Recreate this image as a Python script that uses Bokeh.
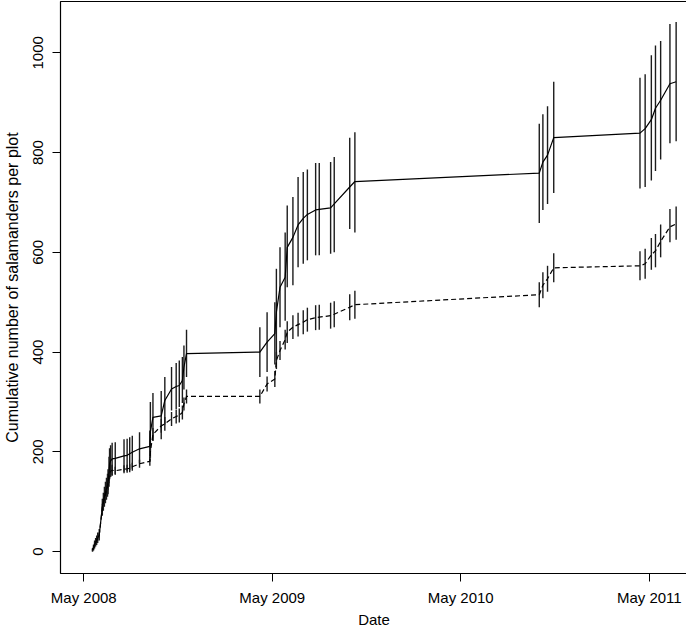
import pandas as pd
from bokeh.plotting import figure
from bokeh.models import FixedTicker, DatetimeTickFormatter, Range1d, ColumnDataSource
from bokeh.embed import file_html
from bokeh.resources import INLINE

# ---------------- data ----------------
dates = [
    # May-Jun 2008
    "2008-05-18", "2008-05-20", "2008-05-22", "2008-05-24", "2008-05-26", "2008-05-28",
    "2008-05-31", "2008-06-06", "2008-06-08", "2008-06-10", "2008-06-12", "2008-06-14",
    "2008-06-16", "2008-06-17", "2008-06-19", "2008-06-20", "2008-06-22", "2008-06-25",
    # Jul-Sep 2008
    "2008-07-01", "2008-07-18", "2008-07-24", "2008-07-29", "2008-08-03", "2008-08-17",
    "2008-09-06",
    # Sep-Nov 2008
    "2008-09-07", "2008-09-12", "2008-09-28", "2008-10-05", "2008-10-18", "2008-10-27",
    "2008-11-02", "2008-11-08", "2008-11-11", "2008-11-16",
    # Apr-Oct 2009
    "2009-04-07", "2009-04-21", "2009-05-06", "2009-05-09", "2009-05-16", "2009-05-26",
    "2009-05-30", "2009-06-10", "2009-06-20", "2009-06-30", "2009-07-08", "2009-07-24",
    "2009-07-31", "2009-08-22", "2009-08-29", "2009-09-28", "2009-10-08",
    # Sep-Oct 2010
    "2010-09-30", "2010-10-07", "2010-10-16", "2010-10-28",
    # Apr-Jun 2011
    "2011-04-13", "2011-04-23", "2011-05-05", "2011-05-13", "2011-05-23", "2011-06-10",
    "2011-06-22",
]

solid_mean = [
    3, 8, 14, 18, 22, 27, 33, 89, 100, 110, 118, 126, 133, 140, 160, 176, 182, 186,
    187, 192, 193, 196, 199, 206, 211,
    240, 269, 272, 303, 326, 331, 333, 343, 370, 397,
    400, 420, 437, 480, 530, 550, 610, 630, 655, 668, 676, 685, 686, 689, 697, 731, 742,
    759, 781, 795, 830,
    839, 848, 866, 889, 905, 938, 942,
]
solid_lo = [
    0, 2, 6, 10, 13, 17, 22, 72, 82, 90, 97, 104, 110, 115, 130, 145, 150, 153,
    155, 160, 161, 163, 166, 177, 180,
    200, 222, 225, 255, 283, 286, 290, 298, 325, 350,
    350, 360, 375, 383, 450, 463, 530, 534, 570, 577, 584, 594, 594, 597, 600, 647, 640,
    659, 685, 697, 719,
    728, 731, 744, 763, 786, 819, 823,
]
solid_hi = [
    6, 14, 22, 27, 32, 38, 45, 106, 118, 130, 140, 148, 156, 165, 190, 207, 213, 218,
    219, 225, 226, 229, 232, 239, 243,
    300, 318, 322, 350, 370, 378, 383, 390, 413, 445,
    450, 480, 500, 567, 610, 640, 694, 711, 751, 761, 766, 779, 779, 781, 791, 830, 841,
    858, 877, 893, 942,
    950, 957, 995, 1015, 1024, 1058, 1062,
]

dashed_mean = [
    3, 8, 14, 18, 22, 27, 33, 88, 98, 107, 114, 121, 127, 133, 148, 158, 161, 163,
    162, 165, 166, 167, 170, 176, 181,
    200, 235, 252, 256, 266, 271, 273, 279, 296, 311,
    311, 336, 346, 383, 403, 425, 440, 450, 455, 460, 465, 469, 470, 473, 476, 490, 495,
    515, 534, 547, 569,
    573, 577, 595, 603, 622, 651, 657,
]
dashed_lo = [
    0, 4, 10, 14, 18, 22, 28, 80, 90, 98, 105, 112, 118, 123, 137, 147, 150, 152,
    154, 157, 158, 159, 162, 168, 172,
    188, 222, 238, 242, 252, 257, 259, 265, 283, 297,
    297, 321, 330, 366, 384, 405, 418, 426, 431, 436, 441, 444, 445, 447, 450, 464, 467,
    490, 508, 521, 540,
    544, 547, 565, 570, 590, 620, 625,
]
dashed_hi = [
    6, 12, 18, 22, 26, 32, 38, 96, 106, 116, 123, 130, 136, 143, 159, 169, 172, 174,
    170, 173, 174, 175, 178, 184, 190,
    212, 248, 266, 270, 280, 285, 287, 293, 309, 325,
    325, 351, 362, 400, 422, 445, 462, 474, 479, 484, 489, 494, 495, 499, 502, 516, 523,
    540, 560, 573, 598,
    602, 607, 629, 637, 656, 687, 692,
]

x_tick_dates = ["2008-05-01", "2009-05-01", "2010-05-01", "2011-05-01"]
x_tick_labels = ["May 2008", "May 2009", "May 2010", "May 2011"]
y_ticks = [0, 200, 400, 600, 800, 1000]

x_title = "Date"
y_title = "Cumulative number of salamanders per plot"

# ---------------- figure ----------------
src = ColumnDataSource(dict(
    x=pd.to_datetime(dates),
    s=solid_mean, slo=solid_lo, shi=solid_hi,
    d=dashed_mean, dlo=dashed_lo, dhi=dashed_hi,
))

FONT = "Liberation Sans"

p = figure(
    x_axis_type="datetime",
    frame_width=627, frame_height=572,
    x_range=Range1d(pd.Timestamp("2008-03-17"), pd.Timestamp("2011-07-14")),
    y_range=Range1d(-44, 1103),
    output_backend="svg", toolbar_location=None,
    min_border_left=57, min_border_right=1, min_border_top=1, min_border_bottom=52,
    background_fill_color="white", border_fill_color="white",
)

p.segment(x0="x", y0="slo", x1="x", y1="shi", source=src,
          line_color="#1c1c1c", line_width=1.4)
p.segment(x0="x", y0="dlo", x1="x", y1="dhi", source=src,
          line_color="#1c1c1c", line_width=1.4)
p.line("x", "s", source=src, line_color="black", line_width=1.2)
p.line("x", "d", source=src, line_color="black", line_width=1.2, line_dash="5 3")

tick_ms = [pd.Timestamp(t).value // 10**6 for t in x_tick_dates]
p.xaxis.ticker = FixedTicker(ticks=tick_ms)
p.xaxis.major_label_overrides = {int(t): lab for t, lab in zip(tick_ms, x_tick_labels)}
p.xaxis.formatter = DatetimeTickFormatter(
    years="%b %Y", months="%b %Y", days="%b %Y", hours="%b %Y",
    minutes="%b %Y", seconds="%b %Y", milliseconds="%b %Y", microseconds="%b %Y",
    hourmin="%b %Y", minsec="%b %Y")
p.yaxis.ticker = FixedTicker(ticks=y_ticks)
p.yaxis.major_label_orientation = "parallel"

p.xaxis.axis_label = x_title
p.yaxis.axis_label = y_title

for ax in (p.xaxis, p.yaxis):
    ax.axis_line_color = None
    ax.major_tick_line_color = "black"
    ax.major_tick_out = 8
    ax.major_tick_in = 0
    ax.minor_tick_line_color = None
    ax.major_label_text_font = FONT
    ax.major_label_text_font_size = "15px"
    ax.major_label_text_color = "black"
    ax.axis_label_text_font = FONT
    ax.axis_label_text_font_size = "15px"
    ax.axis_label_text_font_style = "normal"
    ax.axis_label_text_color = "black"

p.yaxis.axis_label_text_font_size = "16px"

p.xaxis.major_label_standoff = 7
p.xaxis.axis_label_standoff = 2
p.yaxis.major_label_standoff = 9
p.yaxis.axis_label_standoff = 10

p.xgrid.visible = False
p.ygrid.visible = False
p.outline_line_color = "black"
p.outline_line_width = 1.2

open("out.html", "w").write(file_html(p, INLINE))
